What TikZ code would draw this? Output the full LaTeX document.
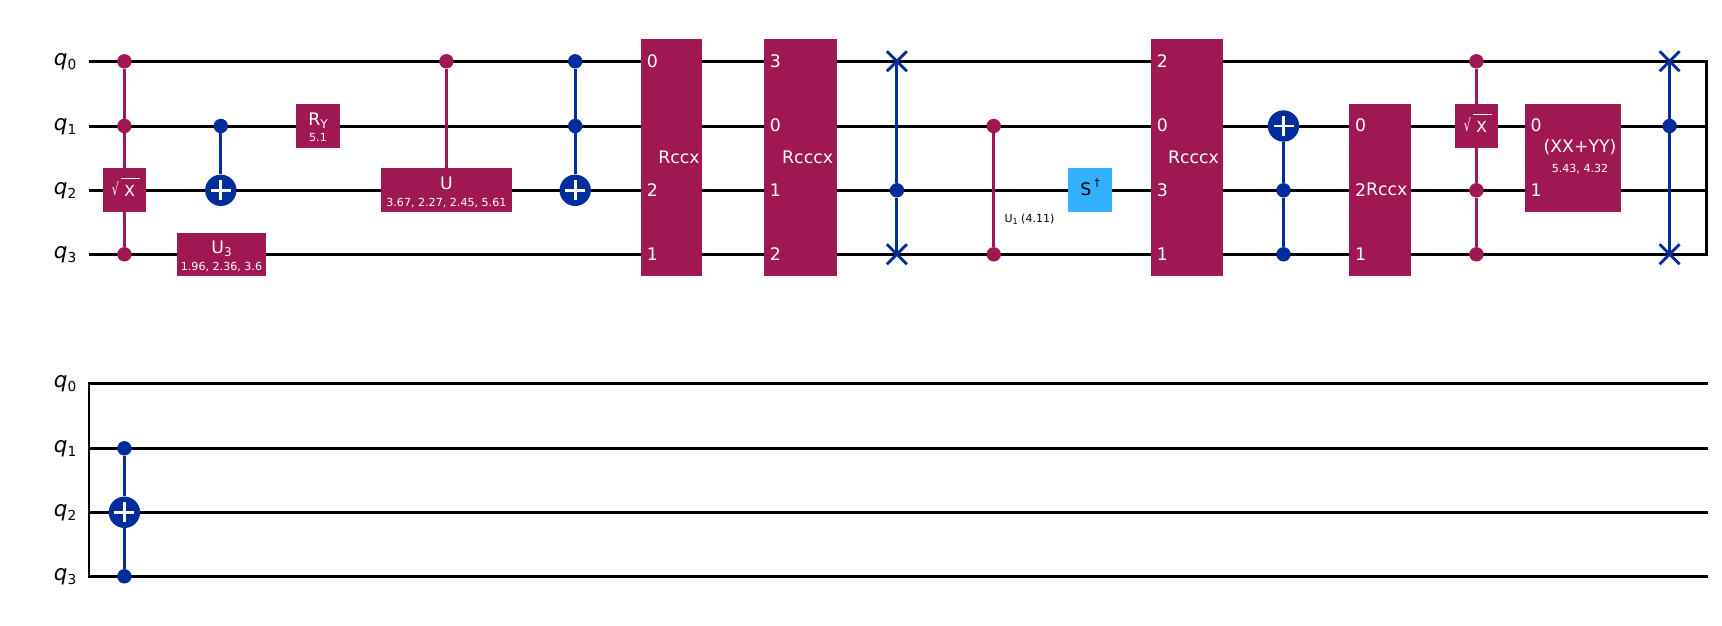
\documentclass[tikz,border=0pt]{standalone}
\usepackage{fontspec}
\usepackage{graphicx}
\setmainfont{DejaVu Sans}
\definecolor{mag}{HTML}{9F1853}
\definecolor{blu}{HTML}{002D9C}
\definecolor{cya}{HTML}{33B1FF}
\newcommand{\fsz}[1]{\fontsize{#1}{#1}\selectfont}
\newcommand{\qlab}[1]{\fsz{21.5}\textit{q}\raisebox{-3.7pt}{\fsz{13.7}#1}}
\tikzset{
  x=1pt,y=-1pt,
  wire/.style={draw=black,line width=2.7pt,line cap=rect},
  conm/.style={draw=mag,line width=3pt},
  conb/.style={draw=blu,line width=3pt},
  qtext/.style={anchor=base east,inner sep=0pt,text=black},
  gmain/.style={anchor=base,inner sep=0pt,text=white,font=\fsz{17.3}},
  gsub/.style={anchor=base,inner sep=0pt,text=white,font=\fsz{11.1}},
  qpos/.style={anchor=base west,inner sep=0pt,text=white,font=\fsz{17.3}},
  rad/.style={anchor=base west,inner sep=0pt,text=white,font=\fsz{17}},
  xlet/.style={anchor=base west,inner sep=0pt,text=white,font=\fsz{15.4}},
  gatem/.style={fill=mag,draw=none},
  gatec/.style={fill=cya,draw=none},
  dotm/.style={circle,fill=mag,minimum size=14.4pt,inner sep=0pt},
  dotb/.style={circle,fill=blu,minimum size=14.4pt,inner sep=0pt},
  targ/.style={circle,fill=blu,minimum size=31.4pt,inner sep=0pt},
  plusarm/.style={draw=white,line width=2.8pt},
  swapx/.style={draw=blu,line width=2.8pt},
  vinc/.style={draw=white,line width=0.8pt},
}
\newcommand{\plusat}[1]{\draw[plusarm] ([xshift=-10pt]#1.center) -- ([xshift=10pt]#1.center); \draw[plusarm] ([yshift=-10pt]#1.center) -- ([yshift=10pt]#1.center);}
\newcommand{\swapat}[1]{\draw[swapx] ([shift={(-10,-10)}]#1) -- ([shift={(10,10)}]#1); \draw[swapx] ([shift={(-10,10)}]#1) -- ([shift={(10,-10)}]#1);}
\newcommand{\radglyph}{\scalebox{.65}[1]{√}}
\begin{document}
\begin{tikzpicture}
\useasboundingbox (0,0) rectangle (1722,625);
% wires, top register
\foreach \i/\yy in {0/61.3,1/126.35,2/190.35,3/254.35}{
  \coordinate (as\i) at (90.6,\yy);
  \coordinate (ae\i) at (1706.4,\yy);
  \draw[wire] (as\i) -- (ae\i);
  \node[qtext] (aq\i) at (76.5,\yy+4.3) {\qlab{\i}};
}
% wires, bottom register
\foreach \i/\yy in {0/383.35,1/448.35,2/512.35,3/576.35}{
  \coordinate (bs\i) at (89,\yy);
  \coordinate (be\i) at (1707,\yy);
  \draw[wire] (bs\i) -- (be\i);
  \node[qtext] (bq\i) at (76.5,\yy+4.3) {\qlab{\i}};
}
\draw[wire] (ae0) -- (ae3);
\draw[wire] (bs0) -- (bs3);

% column 1: CC sqrt X
\node[dotm] (c1a) at (124.4,61.3) {};
\node[dotm] (c1b) at (124.4,126) {};
\node[dotm] (c1d) at (124.4,254.3) {};
\coordinate (c1box) at (124.4,190);
\draw[conm] (c1a) -- (c1box) -- (c1d);
\fill[gatem] (103,168) rectangle (146,211.7);
\node[rad] (c1r) at (111.6,195.5) {\radglyph};
\node[xlet] (c1t) at (124.1,196.7) {X};
\draw[vinc] (121,178.3) -- (140,178.3);

% CX
\node[dotb] (c2a) at (220.8,126) {};
\node[targ] (c2t) at (220.8,190.3) {};
\draw[conb] (c2a) -- (c2t);
\plusat{c2t}

% U3
\fill[gatem] (177,233) rectangle (266,275.7);
\node[gmain] (u3t) at (221.5,253.3) {U\raisebox{-3pt}{\fsz{12}3}};
\node[gsub] (u3s) at (221.5,270) {1.96, 2.36, 3.6};

% RY
\fill[gatem] (296,104) rectangle (340,147.7);
\node[gmain] (ryt) at (318,125) {R\raisebox{-3pt}{\fsz{12}Y}};
\node[gsub] (rys) at (318,141) {5.1};

% CU
\node[dotm] (cua) at (446.4,61.3) {};
\coordinate (cub) at (446.4,180);
\draw[conm] (cua) -- (cub);
\fill[gatem] (381,168) rectangle (512,211.7);
\node[gmain] (cut) at (446.4,189) {U};
\node[gsub] (cus) at (446.4,206.7) {3.67, 2.27, 2.45, 5.61};

% CCX
\node[dotb] (ccxa) at (575.2,61.3) {};
\node[dotb] (ccxb) at (575.2,126) {};
\node[targ] (ccxt) at (575.2,190.3) {};
\draw[conb] (ccxa) -- (ccxb) -- (ccxt);
\plusat{ccxt}

% Rccx
\fill[gatem] (640.8,39) rectangle (702,275.7);
\node[qpos] (r1a) at (646.6,67.3) {0};
\node[qpos] (r1b) at (646.6,196.3) {2};
\node[qpos] (r1c) at (646.6,260.3) {1};
\node[gmain] (r1t) at (679,163.3) {Rccx};

% Rcccx
\fill[gatem] (764,39) rectangle (837,275.7);
\node[qpos] (r2a) at (769.6,67.3) {3};
\node[qpos] (r2b) at (769.6,131.6) {0};
\node[qpos] (r2c) at (769.6,196.3) {1};
\node[qpos] (r2d) at (769.6,260.3) {2};
\node[gmain] (r2t) at (807.6,163.3) {Rcccx};

% CSwap
\coordinate (sw1a) at (896.9,61.3);
\node[dotb] (sw1b) at (896.9,190.3) {};
\coordinate (sw1c) at (896.9,254.3);
\draw[conb] (sw1a) -- (sw1b) -- (sw1c);
\swapat{sw1a}
\swapat{sw1c}

% CU1
\node[dotm] (cu1a) at (993.7,126) {};
\node[dotm] (cu1b) at (993.7,254.3) {};
\draw[conm] (cu1a) -- (cu1b);
\node[anchor=base west,inner sep=0pt,text=black] (cu1t) at (1004.4,222.5) {\fsz{11}U\raisebox{-1.5pt}{\fsz{8}1} (4.11)};

% Sdg
\fill[gatec] (1068,168) rectangle (1112,211.7);
\node[gmain,text=black] (sdg) at (1090,195.2) {S\kern3pt\raisebox{9pt}{\fsz{11}†}};

% Rcccx 2
\fill[gatem] (1151,39) rectangle (1223,275.7);
\node[qpos] (r3a) at (1156.6,67.3) {2};
\node[qpos] (r3b) at (1156.6,131.6) {0};
\node[qpos] (r3c) at (1156.6,196.3) {3};
\node[qpos] (r3d) at (1156.6,260.3) {1};
\node[gmain] (r3t) at (1193.5,163.3) {Rcccx};

% inverted CCX
\node[targ] (ic) at (1283.5,126) {};
\node[dotb] (icb) at (1283.5,190.3) {};
\node[dotb] (icc) at (1283.5,254.3) {};
\draw[conb] (ic) -- (icb) -- (icc);
\plusat{ic}

% 2Rccx
\fill[gatem] (1349,104) rectangle (1411,275.7);
\node[qpos] (r4a) at (1354.8,131.6) {0};
\node[qpos] (r4b) at (1354.8,196) {2};
\node[qpos] (r4c) at (1354.8,260.3) {1};
\node[gmain] (r4t) at (1386.7,195.8) {Rccx};

% C sqrt X middle
\node[dotm] (c3a) at (1476.4,61.3) {};
\node[dotm] (c3c) at (1476.4,190.3) {};
\node[dotm] (c3d) at (1476.4,254.3) {};
\draw[conm] (c3a) -- (c3c) -- (c3d);
\fill[gatem] (1455,104) rectangle (1498,147.7);
\node[rad] (c3r) at (1463.6,131.2) {\radglyph};
\node[xlet] (c3t) at (1476.1,132.4) {X};
\draw[vinc] (1473,114) -- (1492,114);

% XX+YY
\fill[gatem] (1525,104) rectangle (1621,211.7);
\node[qpos] (xa) at (1530.5,131.6) {0};
\node[qpos] (xb) at (1530.5,196) {1};
\node[gmain] (xt) at (1580,152.7) {(XX+YY)};
\node[gsub] (xs) at (1580,172) {5.43, 4.32};

% CSwap 2
\coordinate (sw2a) at (1669.6,61.3);
\node[dotb] (sw2b) at (1669.6,126) {};
\coordinate (sw2c) at (1669.6,254.3);
\draw[conb] (sw2a) -- (sw2b) -- (sw2c);
\swapat{sw2a}
\swapat{sw2c}

% bottom register gate
\node[dotb] (bca) at (124.4,448.3) {};
\node[targ] (bct) at (124.4,512.3) {};
\node[dotb] (bcc) at (124.4,576.3) {};
\draw[conb] (bca) -- (bct) -- (bcc);
\plusat{bct}
\end{tikzpicture}
\end{document}
